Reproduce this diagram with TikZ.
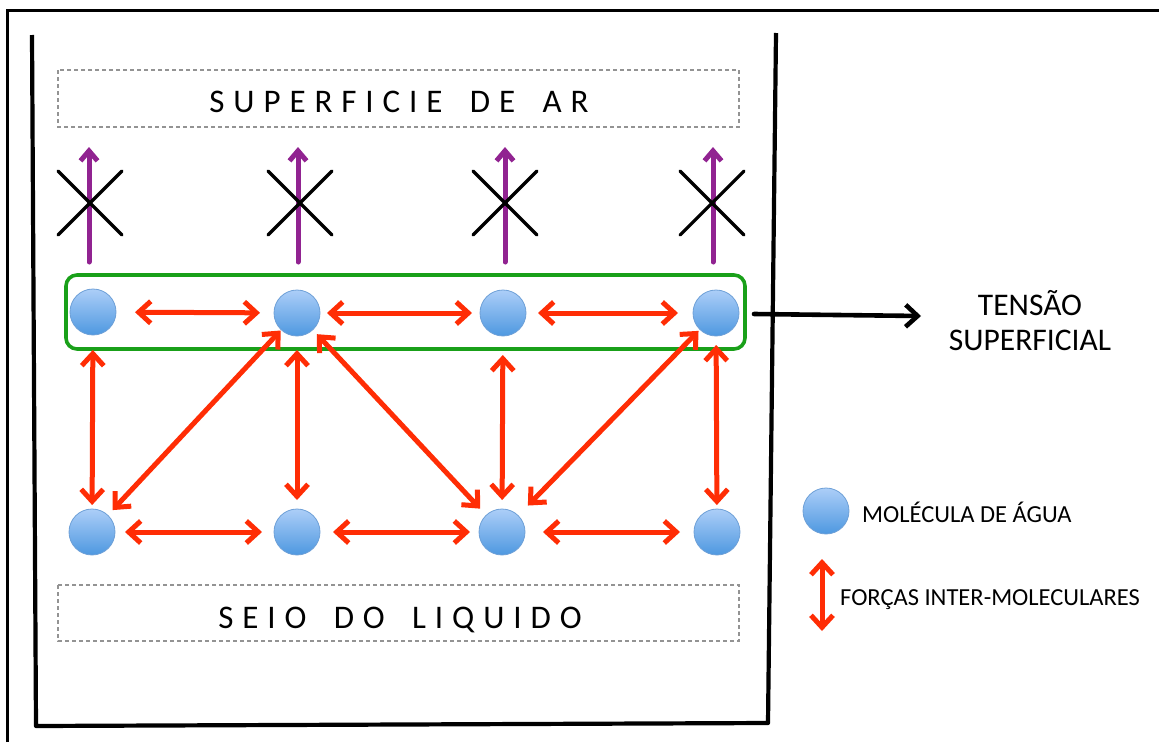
\documentclass[tikz,border=0pt]{standalone}
\usepackage{fontspec}
\setmainfont{Carlito}
\newfontfamily\spacedfont[LetterSpace=27]{Carlito}
\usetikzlibrary{arrows.meta}
\definecolor{redF}{RGB}{255,45,5}
\definecolor{purp}{RGB}{145,35,145}
\definecolor{greenB}{RGB}{25,160,25}
\definecolor{molTop}{RGB}{172,206,248}
\definecolor{molBot}{RGB}{78,152,224}
\definecolor{molLine}{RGB}{110,160,215}
\newcommand{\wgap}{ \hspace{11pt}}
\tikzset{
  mol/.style={circle, minimum size=46pt, inner sep=0pt, outer sep=0pt,
    draw=molLine, line width=0.8pt, top color=molTop, bottom color=molBot},
  force/.style={draw=redF, line width=5pt, line cap=round, line join=round,
    {Straight Barb[length=12pt,width=22pt]}-{Straight Barb[length=12pt,width=22pt]}},
  upforce/.style={draw=purp, line width=5pt, line cap=round, line join=round,
    -{Straight Barb[length=10pt,width=17pt]}},
  cross/.style={draw=black, line width=3.2pt, line cap=round},
  tensarrow/.style={draw=black, line width=4.6pt, line cap=round, line join=round,
    -{Straight Barb[length=12pt,width=22pt]}},
  dashbox/.style={draw=gray!85, line width=1.3pt, dash pattern=on 4pt off 3pt},
  titletext/.style={font=\spacedfont\fontsize{33}{38}\selectfont, anchor=base, inner sep=0pt},
  legtext/.style={font=\fontsize{24.5}{29}\selectfont, anchor=base west, inner sep=0pt},
  bigtext/.style={font=\fontsize{31.5}{36}\selectfont, anchor=base, inner sep=0pt}
}
\begin{document}
\begin{tikzpicture}[x=1pt,y=-1pt]
\useasboundingbox (0,0) rectangle (1159,742);
% outer frame (cropped)
\draw[line width=3pt] (7,742) -- (7,10) -- (1159,10);
% container
\draw[line width=4.2pt, line join=round] (32,35) -- (36,726) -- (768,723) -- (776,33);
% dashed boxes
\draw[dashbox] (58,70) rectangle (739,127);
\draw[dashbox] (58,585) rectangle (739,641);
\node[titletext] (air) at (399,112) {SUPERFICIE\wgap DE\wgap AR};
\node[titletext] (bulk) at (400,628) {SEIO\wgap DO\wgap LIQUIDO};
% surface box
\draw[greenB, line width=3.6pt, rounded corners=11pt] (66,275) rectangle (745,349);
\coordinate (surfE) at (745,314);
% molecules
\node[mol] (t1) at (93,312) {};
\node[mol] (t2) at (297,313) {};
\node[mol] (t3) at (503,313) {};
\node[mol] (t4) at (716,313) {};
\node[mol] (b1) at (92,532) {};
\node[mol] (b2) at (297,532) {};
\node[mol] (b3) at (502,532) {};
\node[mol] (b4) at (717,532) {};
% forbidden upward forces
\foreach \px/\cx in {89/90, 298/300, 505/505, 713/712}{
  \draw[upforce] (\px,262) -- (\px,147);
  \draw[cross] (\cx-32,171) -- (\cx+32,235);
  \draw[cross] (\cx-32,235) -- (\cx+32,171);
}
% horizontal forces
\draw[force, shorten <=19pt, shorten >=14pt] (t1) -- (t2);
\draw[force, shorten <=7pt, shorten >=8pt] (t2) -- (t3);
\draw[force, shorten <=12pt, shorten >=15pt] (t3) -- (t4);
\draw[force, shorten <=10pt, shorten >=12pt] (b1) -- (b2);
\draw[force, shorten <=13pt, shorten >=9pt] (b2) -- (b3);
\draw[force, shorten <=18pt, shorten >=14pt] (b3) -- (b4);
% vertical forces
\draw[force, shorten <=15pt, shorten >=4pt] (t1) -- (b1);
\draw[force, shorten <=14pt, shorten >=9pt] (t2) -- (b2);
\draw[force, shorten <=19pt, shorten >=9pt] (t3) -- (b3);
\draw[force, shorten <=9pt, shorten >=4pt] (t4) -- (b4);
% diagonal forces
\draw[force, shorten <=7pt, shorten >=1pt] (b1) -- (t2);
\draw[force, shorten <=6pt, shorten >=9pt] (t2) -- (b3);
\draw[force, shorten <=14pt, shorten >=2pt] (b3) -- (t4);
% surface tension label
\node[bigtext] (tensA) at (1030,315) {TENSÃO};
\node[bigtext] (tensB) at (1030,350) {SUPERFICIAL};
\coordinate (tensIn) at (921,316);
\draw[tensarrow] ([xshift=9pt]surfE) -- (tensIn);
% legend
\node[mol] (lmol) at (826,511) {};
\node[legtext] (lmolT) at (862,522) {MOLÉCULA DE ÁGUA};
\coordinate (lfA) at (822,559);
\coordinate (lfB) at (822,631);
\draw[force] (lfA) -- (lfB);
\node[legtext] (lfT) at (840,605) {FORÇAS INTER-MOLECULARES};
\end{tikzpicture}
\end{document}
